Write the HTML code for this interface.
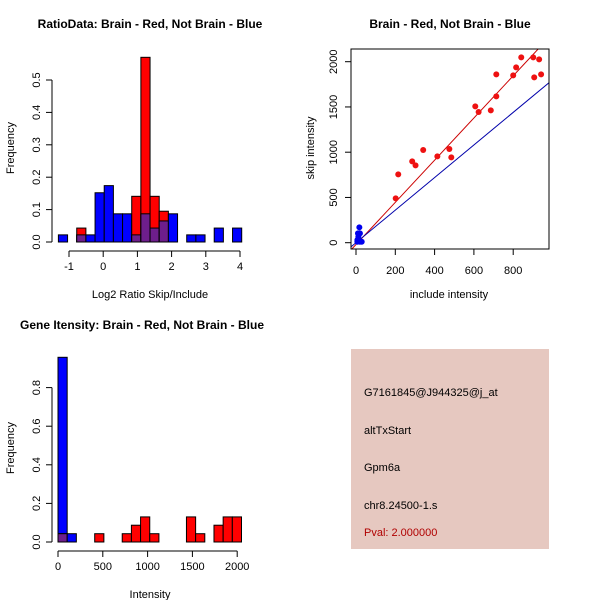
<!DOCTYPE html>
<html><head><meta charset="utf-8"><style>
body{margin:0;background:#fff}
svg{display:block;font-family:"Liberation Sans",sans-serif}
</style></head><body>
<svg id="s" width="600" height="600" viewBox="0 0 600 600">
<rect x="351" y="349" width="198" height="200" fill="#e6c8c0"/>
<g font-size="11" fill="#000">
<text x="364" y="396">G7161845@J944325@j_at</text>
<text x="364" y="434">altTxStart</text>
<text x="364" y="471">Gpm6a</text>
<text x="364" y="509">chr8.24500-1.s</text>
<text x="364" y="536" fill="#b00000">Pval: 2.000000</text>
</g>
</svg>
<script>
// ---- Ratio histogram data ----
const ratioStart = -1.31, ratioWidth = 0.268;
const ratioRed  = [0,0,0.043,0,0,0,0,0,0.141,0.57,0.141,0.095,0,0,0,0,0,0,0,0];
const ratioBlue = [0.022,0,0.022,0.022,0.152,0.174,0.087,0.087,0.022,0.087,0.043,0.065,0.087,0,0.022,0.022,0,0.043,0,0.043];
const ratioXTicks = [-1,0,1,2,3,4];
const ratioYTicks = ["0.0","0.1","0.2","0.3","0.4","0.5"];
// ---- Scatter data ----
const redInclude = [202,215,286,303,342,414,475,485,607,624,686,714,714,800,815,841,902,907,932,942];
const redSkip    = [490,755,899,855,1024,954,1035,943,1506,1444,1462,1860,1617,1849,1937,2048,2048,1827,2026,1860];
const blueInclude = [17,10,20,7,12,20,29,7];
const blueSkip    = [170,103,103,30,66,11,11,11];
const redFit = [-20, 2.33];   // intercept, slope
const blueFit = [0, 1.8];
const scatXTicks = [0,200,400,600,800];
const scatYTicks = [0,500,1000,1500,2000];
// ---- Intensity histogram data ----
const intStart = 0, intWidth = 102.4;
const intRed  = [0.043,0,0,0,0.043,0,0,0.043,0.087,0.13,0.043,0,0,0,0.13,0.043,0,0.087,0.13,0.13];
const intBlue = [0.957,0.043,0,0,0,0,0,0,0,0,0,0,0,0,0,0,0,0,0,0];
const intXTicks = [0,500,1000,1500,2000];
const intYTicks = ["0.0","0.2","0.4","0.6","0.8"];

const NS="http://www.w3.org/2000/svg";
const svg=document.getElementById('s');
function mk(tag,attrs,parent,txt){const e=document.createElementNS(NS,tag);for(const k in attrs)e.setAttribute(k,attrs[k]);if(txt!==undefined)e.textContent=txt;(parent||svg).appendChild(e);return e;}
function grp(name){const g=mk('g',{});return g;}
function text(g,x,y,s,opt){opt=opt||{};const t=mk('text',{x:x,y:y,'font-size':opt.fs||11,'text-anchor':opt.anchor||'middle','font-weight':opt.bold?'bold':'normal',transform:opt.rot?`rotate(-90 ${x} ${y})`:''},g,s);return t;}

function hist(name,sx,sy,start,width,red,blue,xt,yt,yStep,axY,axX){
  const g=grp(name);
  for(let i=0;i<red.length;i++){
    const x0=sx(start+i*width),x1=sx(start+(i+1)*width);
    const r=red[i],b=blue[i],m=Math.min(r,b);
    if(b>0){const e=mk('rect',{x:x0,y:sy(b),width:x1-x0,height:sy(0)-sy(b),fill:'#0000ff',stroke:'#000','stroke-width':1},g);
      }
    if(r>0){const e=mk('rect',{x:x0,y:sy(r),width:x1-x0,height:sy(0)-sy(r),fill:'#ff0000',stroke:'#000','stroke-width':1},g);
      }
    if(m>0){const e=mk('rect',{x:x0,y:sy(m),width:x1-x0,height:sy(0)-sy(m),fill:'#6e1e8c',stroke:'#000','stroke-width':1},g);
      }
  }
  const a=grp(name+'-axes');
  mk('line',{x1:sx(xt[0]),x2:sx(xt[xt.length-1]),y1:axY,y2:axY,stroke:'#000'},a);
  xt.forEach(v=>{mk('line',{x1:sx(v),x2:sx(v),y1:axY,y2:axY+6,stroke:'#000'},a);text(a,sx(v),axY+19,String(v));});
  const yv=yt.map((_,i)=>i*yStep);
  mk('line',{x1:axX,x2:axX,y1:sy(0),y2:sy(yv[yv.length-1]),stroke:'#000'},a);
  yt.forEach((s,i)=>{mk('line',{x1:axX-6,x2:axX,y1:sy(yv[i]),y2:sy(yv[i]),stroke:'#000'},a);text(a,axX-12,sy(yv[i]),s,{rot:true});});
}

// Top-left
const sx1=v=>69+(v+1)*34.2, sy1=v=>242-v*324;
hist('ratio-histogram',sx1,sy1,ratioStart,ratioWidth,ratioRed,ratioBlue,ratioXTicks,ratioYTicks,0.1,251,52);
let g=grp('ratio-labels');
text(g,150,28,'RatioData: Brain - Red, Not Brain - Blue',{bold:true,fs:12});
text(g,150,298,'Log2 Ratio Skip/Include');
text(g,14,148,'Frequency',{rot:true});

// Bottom-left
const sx3=v=>58+v*0.0896, sy3=v=>542-v*193;
hist('intensity-histogram',sx3,sy3,intStart,intWidth,intRed,intBlue,intXTicks,intYTicks,0.2,551,52);
g=grp('intensity-labels');
text(g,142,329,'Gene Itensity: Brain - Red, Not Brain - Blue',{bold:true,fs:12});
text(g,150,598,'Intensity');
text(g,14,448,'Frequency',{rot:true});

// Scatter
const sx2=v=>356+v*0.1965, sy2=v=>242.7-v*0.0905;
g=grp('scatter-plot');
const cp=mk('clipPath',{id:'cp'},g);mk('rect',{x:351,y:49,width:198,height:200},cp);
const xmin=-25,xmax=982;
let l=mk('line',{x1:sx2(xmin),y1:sy2(redFit[0]+redFit[1]*xmin),x2:sx2(xmax),y2:sy2(redFit[0]+redFit[1]*xmax),stroke:'#cc0000','clip-path':'url(#cp)'},g);

l=mk('line',{x1:sx2(xmin),y1:sy2(blueFit[0]+blueFit[1]*xmin),x2:sx2(xmax),y2:sy2(blueFit[0]+blueFit[1]*xmax),stroke:'#0000aa','clip-path':'url(#cp)'},g);

redInclude.forEach((x,i)=>{const c=mk('circle',{cx:sx2(x),cy:sy2(redSkip[i]),r:3,fill:'#ee1111'},g);
  });
blueInclude.forEach((x,i)=>{const c=mk('circle',{cx:sx2(x),cy:sy2(blueSkip[i]),r:3,fill:'#0000ee'},g);
  });
mk('rect',{x:351,y:49,width:198,height:200,fill:'none',stroke:'#000'},g);
const a=grp('scatter-axes');
scatXTicks.forEach(v=>{mk('line',{x1:sx2(v),x2:sx2(v),y1:249,y2:255,stroke:'#000'},a);text(a,sx2(v),274,String(v));});
scatYTicks.forEach(v=>{mk('line',{x1:345,x2:351,y1:sy2(v),y2:sy2(v),stroke:'#000'},a);text(a,337,sy2(v),String(v),{rot:true});});
g=grp('scatter-labels');
text(g,450,28,'Brain - Red, Not Brain - Blue',{bold:true,fs:12});
text(g,449,298,'include intensity');
text(g,314,148,'skip intensity',{rot:true});
</script>
</body></html>
